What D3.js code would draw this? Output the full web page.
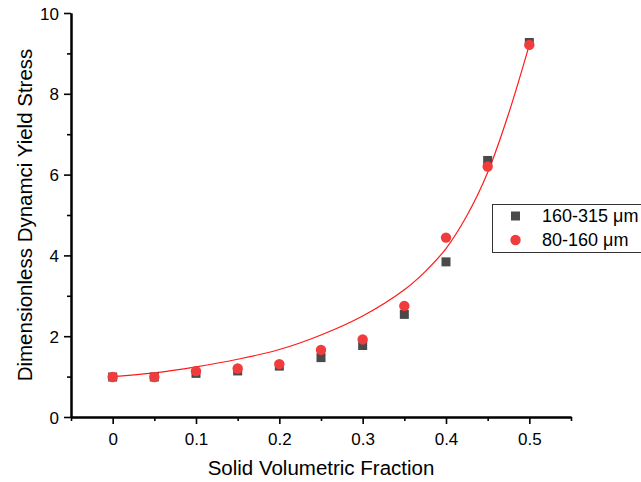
<!DOCTYPE html>
<html>
<head>
<meta charset="utf-8">
<script src="https://cdn.jsdelivr.net/npm/d3@7"></script>
<style>
  html, body { margin: 0; padding: 0; background: #fff; }
  svg { display: block; font-family: "Liberation Sans", Arial, Helvetica, sans-serif; }
</style>
</head>
<body>
<svg id="chart" width="641" height="482"></svg>
<script>
// Solid volumetric fraction (x) for both particle-size series
const fractions = [0, 0.05, 0.1, 0.15, 0.2, 0.25, 0.3, 0.35, 0.4, 0.45, 0.5];
// Dimensionless dynamic yield stress, 160-315 µm particles
const coarseStress = [0.99, 0.99, 1.08, 1.14, 1.26, 1.47, 1.77, 2.54, 3.84, 6.35, 9.27];
// Dimensionless dynamic yield stress, 80-160 µm particles
const fineStress = [0.99, 0.99, 1.135, 1.20, 1.31, 1.66, 1.92, 2.75, 4.44, 6.20, 9.21];
// Fitted trend line, sampled along the fraction axis
const fitFractions = [0, 0.05, 0.1, 0.15, 0.2, 0.25, 0.3, 0.35, 0.375, 0.4, 0.425, 0.45, 0.475, 0.5];
const fitStress = [1.0, 1.09, 1.24, 1.43, 1.67, 2.03, 2.5, 3.15, 3.6, 4.17, 4.98, 6.05, 7.5, 9.21];

const seriesNames = ["160-315 \u03bcm", "80-160 \u03bcm"];
const xMajorTicks = [0, 0.1, 0.2, 0.3, 0.4, 0.5];
const xMinorTicks = [-0.05, 0.05, 0.15, 0.25, 0.35, 0.45, 0.55];
const yMajorTicks = [0, 2, 4, 6, 8, 10];
const yMinorTicks = [1, 3, 5, 7, 9];
const xTitle = "Solid Volumetric Fraction";
const yTitle = "Dimensionless Dynamci Yield Stress";

const svg = d3.select("#chart");
const x = d3.scaleLinear().domain([-0.05, 0.55]).range([71, 571]);
const y = d3.scaleLinear().domain([0, 10]).range([417, 13]);

const SQUARE = "#4a4a4a";
const RED = "#f03c3c";

// Axes
const xAxis = svg.append("g").attr("transform", `translate(0,${y(0)})`)
  .call(d3.axisBottom(x).tickValues(xMajorTicks).tickSize(7).tickSizeOuter(0).tickPadding(9)
    .tickFormat(d => d === 0 ? "0" : d3.format(".1f")(d)));
const xMinor = svg.append("g").attr("transform", `translate(0,${y(0)})`)
  .call(d3.axisBottom(x).tickValues(xMinorTicks).tickSize(4).tickSizeOuter(0).tickFormat(""));
const yAxis = svg.append("g").attr("transform", `translate(${x(-0.05)},0)`)
  .call(d3.axisLeft(y).tickValues(yMajorTicks).tickSize(7).tickSizeOuter(0).tickPadding(5));
const yMinor = svg.append("g").attr("transform", `translate(${x(-0.05)},0)`)
  .call(d3.axisLeft(y).tickValues(yMinorTicks).tickSize(4).tickSizeOuter(0).tickFormat(""));

[xAxis, xMinor, yAxis, yMinor].forEach(g => {
  g.select(".domain").attr("stroke", "#000").attr("stroke-width", 2);
  g.selectAll(".tick line").attr("stroke", "#000").attr("stroke-width", 1.6);
  g.selectAll(".tick text").attr("fill", "#000").style("font-size", "17px")
    .style("font-family", "'Liberation Sans', Arial, sans-serif");
});
yAxis.selectAll(".tick text").attr("dy", "0.36em");

// Axis titles
svg.append("text")
  .attr("x", (x(-0.05) + x(0.55)) / 2).attr("y", 475)
  .attr("text-anchor", "middle").style("font-size", "20.5px").attr("fill", "#000")
  .text(xTitle);
svg.append("text")
  .attr("transform", `translate(32,${(y(0) + y(10)) / 2}) rotate(-90)`)
  .attr("text-anchor", "middle").style("font-size", "20.5px").attr("fill", "#000")
  .text(yTitle);

// Fit line
const fitPts = fitFractions.map((f, i) => [f, fitStress[i]]);
svg.append("path")
  .datum(fitPts)
  .attr("fill", "none").attr("stroke", "#ff1a1a").attr("stroke-width", 1.2)
  .attr("d", d3.line().x(d => x(d[0])).y(d => y(d[1])).curve(d3.curveCatmullRom.alpha(0.5)));

// Markers
const coarsePts = fractions.map((f, i) => ({ f, v: coarseStress[i] }));
const finePts = fractions.map((f, i) => ({ f, v: fineStress[i] }));
const sq = 9;
svg.append("g").selectAll("rect").data(coarsePts).join("rect")
  .attr("x", d => x(d.f) - sq / 2).attr("y", d => y(d.v) - sq / 2)
  .attr("width", sq).attr("height", sq).attr("fill", SQUARE);
svg.append("g").selectAll("circle").data(finePts).join("circle")
  .attr("cx", d => x(d.f)).attr("cy", d => y(d.v)).attr("r", 5.2).attr("fill", RED);

// Legend
const legend = svg.append("g");
legend.append("rect").attr("x", 492.5).attr("y", 204.5).attr("width", 170).attr("height", 48)
  .attr("fill", "#fff").attr("stroke", "#333").attr("stroke-width", 1);
legend.append("rect").attr("x", 515.5 - 4.5).attr("y", 216 - 4.5).attr("width", 9).attr("height", 9)
  .attr("fill", SQUARE);
legend.append("circle").attr("cx", 515.5).attr("cy", 240).attr("r", 5.2).attr("fill", RED);
legend.selectAll("text.lg").data(seriesNames).join("text")
  .attr("class", "lg")
  .attr("x", 542).attr("y", (d, i) => 222 + i * 24)
  .style("font-size", "18px").attr("fill", "#000")
  .text(d => d);
</script>
</body>
</html>
